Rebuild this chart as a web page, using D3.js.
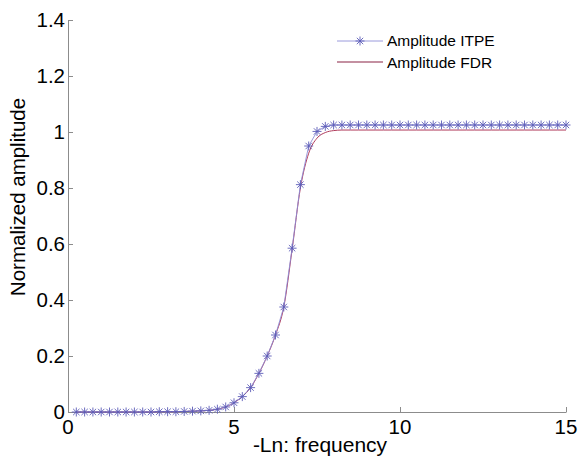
<!DOCTYPE html>
<html>
<head>
<meta charset="utf-8">
<script src="https://cdn.jsdelivr.net/npm/d3@7"></script>
<style>
  body { margin: 0; background: #fff; }
  text { font-family: "Liberation Sans", Arial, sans-serif; }
</style>
</head>
<body>
<script>
var w = 581;
var h = 460;
var margin = { top: 20, right: 15, bottom: 48, left: 68 };

// -Ln: frequency sample positions
var xValues = [0.25, 0.5, 0.75, 1, 1.25, 1.5, 1.75, 2, 2.25, 2.5, 2.75, 3, 3.25, 3.5,
               3.75, 4, 4.25, 4.5, 4.75, 5, 5.25, 5.5, 5.75, 6, 6.25, 6.5, 6.75, 7,
               7.25, 7.5, 7.75, 8, 8.25, 8.5, 8.75, 9, 9.25, 9.5, 9.75, 10, 10.25,
               10.5, 10.75, 11, 11.25, 11.5, 11.75, 12, 12.25, 12.5, 12.75, 13,
               13.25, 13.5, 13.75, 14, 14.25, 14.5, 14.75, 15];

var itpe = [0, 0, 0, 0, 0, 0, 0, 0, 0, 0, 0.001, 0.001, 0.001, 0.002,
            0.003, 0.004, 0.006, 0.010, 0.018, 0.033, 0.055, 0.087, 0.138, 0.200,
            0.275, 0.375, 0.585, 0.812, 0.950, 1.002, 1.020, 1.025, 1.025, 1.025,
            1.025, 1.025, 1.025, 1.025, 1.025, 1.025, 1.025, 1.025, 1.025, 1.025,
            1.025, 1.025, 1.025, 1.025, 1.025, 1.025, 1.025, 1.025, 1.025, 1.025,
            1.025, 1.025, 1.025, 1.025, 1.025, 1.025];

var fdr = [0, 0, 0, 0, 0, 0, 0, 0, 0, 0, 0.001, 0.001, 0.001, 0.002,
           0.003, 0.004, 0.006, 0.010, 0.018, 0.033, 0.055, 0.087, 0.138, 0.200,
           0.275, 0.375, 0.580, 0.800, 0.924, 0.978, 0.998, 1.005, 1.007, 1.007,
           1.007, 1.007, 1.007, 1.007, 1.007, 1.007, 1.007, 1.007, 1.007, 1.007,
           1.007, 1.007, 1.007, 1.007, 1.007, 1.007, 1.007, 1.007, 1.007, 1.007,
           1.007, 1.007, 1.007, 1.007, 1.007, 1.007];

var xTicks = [0, 5, 10, 15];
var yTicks = [0, 0.2, 0.4, 0.6, 0.8, 1, 1.2, 1.4];
var seriesNames = ["Amplitude ITPE", "Amplitude FDR"];

var xScale = d3.scaleLinear()
    .domain([0, 15])
    .range([margin.left, w - margin.right]);

var yScale = d3.scaleLinear()
    .domain([0, 1.4])
    .range([h - margin.bottom, margin.top]);

var svg = d3.select("body")
    .append("svg")
    .attr("width", w)
    .attr("height", h);

// axes, MATLAB style: ticks pointing inward, labels drawn separately
svg.append("g")
    .attr("transform", "translate(0," + yScale(0) + ")")
    .call(d3.axisBottom(xScale).tickValues(xTicks).tickSize(-5).tickSizeOuter(0).tickFormat(""));

svg.append("g")
    .attr("transform", "translate(" + xScale(0) + ",0)")
    .call(d3.axisLeft(yScale).tickValues(yTicks).tickSize(-5).tickSizeOuter(0).tickFormat(""));

svg.selectAll(".domain, .tick line")
    .attr("stroke", "#8c8c8c");

// tick labels
svg.selectAll(".xlab")
    .data(xTicks)
    .enter()
    .append("text")
    .attr("x", function(d) { return xScale(d); })
    .attr("y", yScale(0) + 22)
    .attr("text-anchor", "middle")
    .attr("font-size", "20.5px")
    .text(function(d) { return d; });

svg.selectAll(".ylab")
    .data(yTicks)
    .enter()
    .append("text")
    .attr("x", xScale(0) - 3)
    .attr("y", function(d) { return yScale(d) + 7; })
    .attr("text-anchor", "end")
    .attr("font-size", "20.5px")
    .text(function(d) { return d; });

// axis titles
svg.append("text")
    .attr("x", 320)
    .attr("y", 452)
    .attr("text-anchor", "middle")
    .attr("font-size", "21px")
    .text("-Ln: frequency");

svg.append("text")
    .attr("transform", "translate(25,197) rotate(-90)")
    .attr("text-anchor", "middle")
    .attr("font-size", "20.5px")
    .text("Normalized amplitude");

// lines
var itpeLine = d3.line()
    .x(function(d, i) { return xScale(xValues[i]); })
    .y(function(d) { return yScale(d); });

var fdrLine = d3.line()
    .curve(d3.curveMonotoneX)
    .x(function(d, i) { return xScale(xValues[i]); })
    .y(function(d) { return yScale(d); });

svg.append("path")
    .datum(fdr)
    .attr("d", fdrLine)
    .attr("fill", "none")
    .attr("stroke", "#b03a5a")
    .attr("stroke-width", 1);

svg.append("path")
    .datum(itpe)
    .attr("d", itpeLine)
    .attr("fill", "none")
    .attr("stroke", "#8f8fd8")
    .attr("stroke-width", 0.9);

// asterisk markers
var star = "M-4.5,0L4.5,0M0,-4.5L0,4.5M-3.2,-3.2L3.2,3.2M-3.2,3.2L3.2,-3.2";

svg.selectAll(".mk")
    .data(itpe)
    .enter()
    .append("path")
    .attr("transform", function(d, i) {
        return "translate(" + xScale(xValues[i]) + "," + yScale(d) + ")";
    })
    .attr("d", star)
    .attr("fill", "none")
    .attr("stroke", "#5c5cb8")
    .attr("stroke-width", 0.9);

// legend
var legend = svg.append("g");

legend.append("line")
    .attr("x1", 337).attr("x2", 383)
    .attr("y1", 41).attr("y2", 41)
    .attr("stroke", "#8f8fd8")
    .attr("stroke-width", 0.9);

legend.append("path")
    .attr("transform", "translate(360,41)")
    .attr("d", star)
    .attr("fill", "none")
    .attr("stroke", "#5c5cb8")
    .attr("stroke-width", 0.9);

legend.append("line")
    .attr("x1", 337).attr("x2", 383)
    .attr("y1", 62).attr("y2", 62)
    .attr("stroke", "#8a2244")
    .attr("stroke-width", 1.2);

legend.selectAll(".lt")
    .data(seriesNames)
    .enter()
    .append("text")
    .attr("x", 387)
    .attr("y", function(d, i) { return 46 + i * 22; })
    .attr("font-size", "15.5px")
    .text(function(d) { return d; });
</script>
</body>
</html>
